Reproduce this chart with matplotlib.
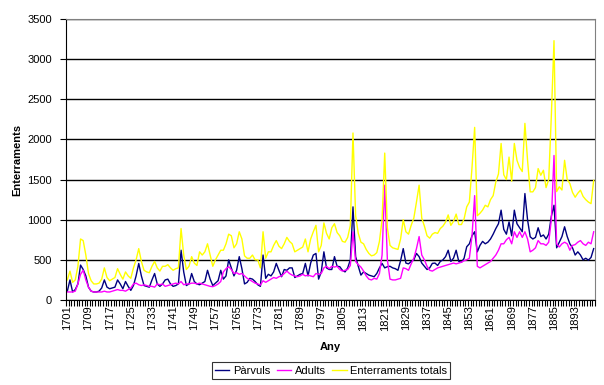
import matplotlib
matplotlib.use("Agg")
import matplotlib.pyplot as plt

plt.rcParams['font.family'] = ['Liberation Sans', 'DejaVu Sans']

# Burials per year, 1701-1900
years = list(range(1701, 1901))

parvuls = [
    110, 250, 100, 130, 200, 435, 380, 300, 160, 110,
    100, 100, 110, 150, 250, 160, 140, 150, 160, 250,
    200, 140, 230, 170, 120, 180, 300, 455, 300, 180,
    170, 160, 250, 330, 200, 170, 200, 250, 260, 200,
    170, 180, 200, 620, 350, 180, 200, 330, 230, 200,
    190, 210, 230, 370, 260, 180, 210, 240, 370, 260,
    300, 500, 400, 300, 370, 540, 390, 200, 220, 270,
    260, 230, 190, 170, 560, 270, 320, 300, 350, 456,
    370, 290, 380, 370, 400, 400, 280, 300, 320, 330,
    456, 300, 460, 560, 580, 260, 350, 600, 400, 380,
    380, 540, 420, 415, 370, 350, 400, 500, 1160, 540,
    420, 310, 350, 330, 310, 300, 290, 330, 400, 456,
    400, 415, 420, 400, 390, 370, 490, 640, 460, 450,
    480, 500, 580, 540, 460, 420, 380, 400, 456, 460,
    430, 480, 500, 540, 620, 480, 520, 620, 480, 470,
    520, 663, 700, 800, 850, 600, 680, 730, 700, 720,
    760, 820, 890, 950, 1119, 880, 820, 973, 800, 1119,
    950, 900, 850, 1326, 1000, 787, 760, 780, 900, 790,
    810, 760, 820, 1044, 1180, 650, 720, 790, 912, 790,
    700, 650, 560, 600, 560, 500, 520, 497, 530, 640,
]

adults = [
    100, 100, 100, 110, 200, 320, 370, 250, 160, 110,
    100, 100, 100, 100, 110, 100, 100, 110, 120, 130,
    120, 120, 110, 130, 150, 200, 210, 190, 180, 190,
    180, 170, 170, 160, 200, 190, 200, 170, 180, 190,
    200, 210, 200, 230, 190, 200, 200, 210, 210, 200,
    210, 200, 190, 180, 170, 166, 180, 200, 230, 350,
    390, 415, 380, 330, 340, 320, 330, 300, 270, 250,
    230, 210, 200, 186, 240, 220, 240, 260, 280, 270,
    290, 300, 330, 360, 330, 310, 300, 290, 300, 320,
    300, 310, 300, 290, 330, 320, 330, 400, 420, 390,
    420, 410, 420, 380, 360, 370, 380, 430, 850, 480,
    440, 410, 360, 300, 260, 250, 270, 260, 330, 560,
    1430, 500, 260, 250, 250, 260, 270, 400, 390, 370,
    450, 520, 640, 790, 560, 500, 420, 370, 360, 380,
    400, 410, 420, 430, 440, 450, 460, 450, 460, 470,
    490, 500, 520, 800, 1300, 420, 400, 420, 440, 460,
    480, 520, 560, 620, 700, 700, 750, 780, 700, 850,
    780, 850, 780, 850, 760, 600, 620, 650, 740, 700,
    700, 680, 720, 1000, 1800, 700, 660, 700, 720, 700,
    620, 680, 690, 720, 740, 700, 680, 720, 700, 850,
]

totals = [
    250, 360, 220, 250, 420, 760, 740, 560, 330, 240,
    200, 200, 210, 260, 400, 280, 240, 260, 280, 390,
    320, 260, 350, 300, 270, 400, 500, 640, 480, 370,
    350, 340, 420, 480, 400, 360, 420, 420, 440, 400,
    370, 390, 400, 890, 560, 380, 420, 540, 460, 430,
    600, 560, 600, 700, 560, 420, 500, 560, 620, 620,
    700, 820, 800, 650, 700, 850, 760, 550, 520, 520,
    560, 500, 500, 400, 850, 520, 600, 600, 680, 740,
    670, 640, 700, 780, 730, 700, 600, 620, 640, 660,
    760, 600, 760, 850, 930, 600, 680, 960, 830, 760,
    900, 950, 840, 800, 730, 720, 780, 930, 2080, 1050,
    830, 720, 700, 630, 580, 550, 560, 590, 730, 1000,
    1830, 900, 680, 650, 640, 630, 760, 1000, 850, 820,
    930, 1020, 1220, 1430, 1020, 920, 800, 770, 820, 840,
    830, 890, 920, 970, 1060, 930, 980, 1070, 940, 940,
    1010, 1160, 1220, 1650, 2150, 1050, 1080, 1120, 1180, 1160,
    1250, 1300, 1470, 1570, 1950, 1560, 1500, 1780, 1480, 1950,
    1740, 1650, 1600, 2200, 1740, 1347, 1347, 1400, 1637, 1554,
    1616, 1400, 1500, 2300, 3230, 1350, 1410, 1370, 1740, 1500,
    1450, 1340, 1280, 1330, 1368, 1290, 1250, 1220, 1200, 1490,
]

W, H = 604, 385
fig = plt.figure(figsize=(W / 100, H / 100), dpi=100)
# plot area in pixels: x 66..595, y 19..300
ax = fig.add_axes([66 / W, 1 - 300 / H, (595 - 66) / W, (300 - 19) / H])

x = list(range(len(years)))
ax.plot(x, parvuls, color='#000080', lw=1.0, label='Pàrvuls')
ax.plot(x, adults, color='#FF00FF', lw=1.0, label='Adults')
ax.plot(x, totals, color='#FFFF00', lw=1.0, label='Enterraments totals')

ax.set_xlim(-0.5, len(years) - 0.5)
ax.set_ylim(0, 3500)
ax.set_yticks(range(0, 3501, 500))
ax.yaxis.grid(True, color='black', lw=1.0)
ax.set_axisbelow(True)

# labels every 8 categories, tick marks at every category boundary
major = list(range(0, len(years), 8))
ax.set_xticks(major)
ax.set_xticklabels([str(years[i]) for i in major], rotation=90)
ax.set_xticks([i - 0.5 for i in range(len(years) + 1)], minor=True)
ax.tick_params(axis='x', which='major', length=0, pad=4, labelsize=8)
ax.tick_params(axis='x', which='minor', length=4, width=0.8, direction='out')
ax.tick_params(axis='y', length=4, width=0.8, labelsize=8, pad=6)

for side in ['left', 'bottom']:
    ax.spines[side].set_color('black')
ax.spines['right'].set_color('#808080')
ax.spines['top'].set_color('#808080')

ax.set_ylabel('Enterraments', fontsize=8, fontweight='bold', labelpad=4)
ax.set_xlabel('Any', fontsize=8, fontweight='bold', labelpad=8)

leg = fig.legend(loc='center', bbox_to_anchor=(331 / W, 1 - 370.5 / H), ncol=3,
                 fontsize=8, frameon=True, fancybox=False, edgecolor='black',
                 handlelength=1.3, handletextpad=0.3, columnspacing=0.6,
                 borderpad=0.3, borderaxespad=0)
leg.get_frame().set_linewidth(0.8)

fig.savefig('out.png', dpi=100)
